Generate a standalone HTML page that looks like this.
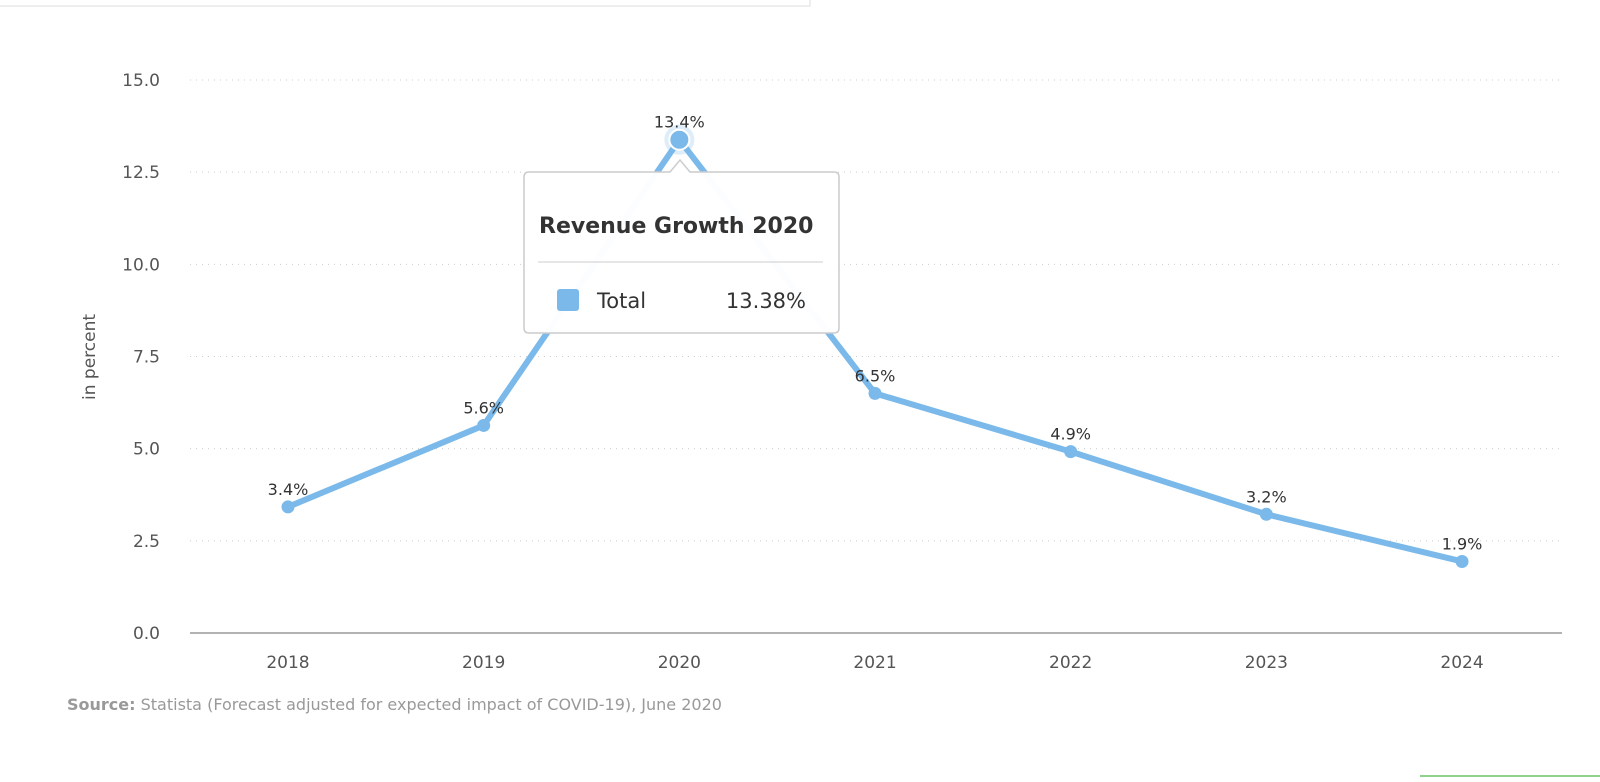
<!DOCTYPE html>
<html><head><meta charset="utf-8"><style>
body{margin:0;background:#fff;width:1600px;height:777px;overflow:hidden;font-family:"Liberation Sans","DejaVu Sans",sans-serif}
svg text{font-family:"DejaVu Sans","Liberation Sans",sans-serif}
</style></head><body>
<svg id="chart" width="1600" height="777">
<rect x="-2" y="-2" width="812" height="8" fill="#fff" stroke="#ddd"/>
<line x1="1420" y1="776" x2="1600" y2="776" stroke="#8fd18f" stroke-width="2"/>
<g id="grid"></g><g id="series"></g>
<text x="0" y="0" transform="translate(95,357) rotate(-90)" text-anchor="middle" font-size="17" fill="#555">in percent</text>
<text x="67" y="710" font-size="16" fill="#999"><tspan font-weight="bold">Source:</tspan> Statista (Forecast adjusted for expected impact of COVID-19), June 2020</text>
<g>
<path d="M529,172 L670,172 L680,160 L690,172 L834,172 Q839,172 839,177 L839,328 Q839,333 834,333 L529,333 Q524,333 524,328 L524,177 Q524,172 529,172 Z" fill="#fff" fill-opacity="0.97" stroke="#ccc" stroke-width="1.5"/>
<text x="539" y="233" font-size="22" font-weight="bold" fill="#333">Revenue Growth 2020</text>
<line x1="538" y1="262" x2="823" y2="262" stroke="#ccc"/>
<rect x="557" y="289" width="22" height="22" rx="3" fill="#7ab9e9"/>
<text x="597" y="308" font-size="21" fill="#333">Total</text>
<text x="806" y="308" font-size="21" fill="#333" text-anchor="end">13.38%</text>
</g>
</svg>
<script>
const categories=["2018","2019","2020","2021","2022","2023","2024"];
const values=[3.42,5.63,13.38,6.5,4.92,3.22,1.94];
const valueLabels=["3.4%","5.6%","13.4%","6.5%","4.9%","3.2%","1.9%"];
const yTicks=[0,2.5,5,7.5,10,12.5,15];
const NS="http://www.w3.org/2000/svg";
const y=v=>633-v*(553/15);
const x=i=>288+i*195.67;
function mk(t,a,p){const e=document.createElementNS(NS,t);for(const k in a)e.setAttribute(k,a[k]);p.appendChild(e);return e;}
const g=document.getElementById('grid'),s=document.getElementById('series');
yTicks.forEach(v=>{
 if(v>0){const l=mk('line',{x1:190,x2:1562,y1:y(v),y2:y(v),stroke:'#ccc','stroke-dasharray':'1 5'},g);
 
 }
 const t=mk('text',{x:160,y:y(v)+6,'text-anchor':'end','font-size':17,fill:'#555'},g);t.textContent=v.toFixed(1);
 
 
});
const ax=mk('line',{x1:190,x2:1562,y1:633,y2:633,stroke:'#999','stroke-width':1.5},g);


categories.forEach((c,i)=>{const t=mk('text',{x:x(i),y:668,'text-anchor':'middle','font-size':17,fill:'#555'},g);t.textContent=c;
 
 });
const pl=mk('polyline',{points:values.map((v,i)=>x(i)+','+y(v)).join(' '),fill:'none',stroke:'#7ab9e9','stroke-width':6,'stroke-linejoin':'round'},s);


values.forEach((v,i)=>{
 if(i===2){const h=mk('circle',{cx:x(i),cy:y(v),r:15,fill:'#7ab9e9','fill-opacity':0.25},s);
 
 }
 const c=mk('circle',{cx:x(i),cy:y(v),r:i===2?10:6.5,fill:'#7ab9e9',stroke:'#fff','stroke-width':i===2?2:0},s);
 
 
 const t=mk('text',{x:x(i),y:y(v)-12,'text-anchor':'middle','font-size':16,fill:'#333'},s);t.textContent=valueLabels[i];
 
 
});
</script>
</body></html>
